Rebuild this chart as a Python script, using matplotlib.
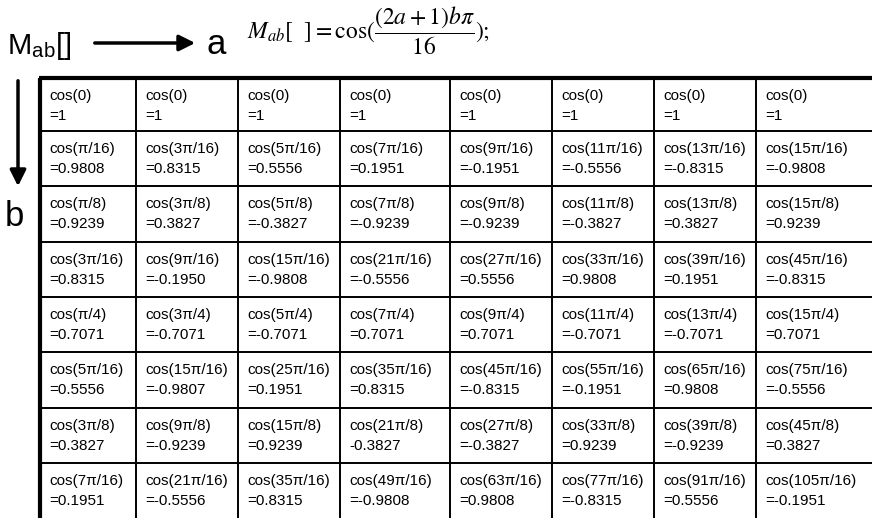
import numpy as np
import matplotlib.pyplot as plt

# cell contents, row b = 0..7, column a = 0..7
angles = [
    ["cos(0)", "cos(0)", "cos(0)", "cos(0)", "cos(0)", "cos(0)", "cos(0)", "cos(0)"],
    ["cos(π/16)", "cos(3π/16)", "cos(5π/16)", "cos(7π/16)", "cos(9π/16)", "cos(11π/16)", "cos(13π/16)", "cos(15π/16)"],
    ["cos(π/8)", "cos(3π/8)", "cos(5π/8)", "cos(7π/8)", "cos(9π/8)", "cos(11π/8)", "cos(13π/8)", "cos(15π/8)"],
    ["cos(3π/16)", "cos(9π/16)", "cos(15π/16)", "cos(21π/16)", "cos(27π/16)", "cos(33π/16)", "cos(39π/16)", "cos(45π/16)"],
    ["cos(π/4)", "cos(3π/4)", "cos(5π/4)", "cos(7π/4)", "cos(9π/4)", "cos(11π/4)", "cos(13π/4)", "cos(15π/4)"],
    ["cos(5π/16)", "cos(15π/16)", "cos(25π/16)", "cos(35π/16)", "cos(45π/16)", "cos(55π/16)", "cos(65π/16)", "cos(75π/16)"],
    ["cos(3π/8)", "cos(9π/8)", "cos(15π/8)", "cos(21π/8)", "cos(27π/8)", "cos(33π/8)", "cos(39π/8)", "cos(45π/8)"],
    ["cos(7π/16)", "cos(21π/16)", "cos(35π/16)", "cos(49π/16)", "cos(63π/16)", "cos(77π/16)", "cos(91π/16)", "cos(105π/16)"],
]
values = [
    ["=1", "=1", "=1", "=1", "=1", "=1", "=1", "=1"],
    ["=0.9808", "=0.8315", "=0.5556", "=0.1951", "=-0.1951", "=-0.5556", "=-0.8315", "=-0.9808"],
    ["=0.9239", "=0.3827", "=-0.3827", "=-0.9239", "=-0.9239", "=-0.3827", "=0.3827", "=0.9239"],
    ["=0.8315", "=-0.1950", "=-0.9808", "=-0.5556", "=0.5556", "=0.9808", "=0.1951", "=-0.8315"],
    ["=0.7071", "=-0.7071", "=-0.7071", "=0.7071", "=0.7071", "=-0.7071", "=-0.7071", "=0.7071"],
    ["=0.5556", "=-0.9807", "=0.1951", "=0.8315", "=-0.8315", "=-0.1951", "=0.9808", "=-0.5556"],
    ["=0.3827", "=-0.9239", "=0.9239", "-0.3827", "=-0.3827", "=0.9239", "=-0.9239", "=0.3827"],
    ["=0.1951", "=-0.5556", "=0.8315", "=-0.9808", "=0.9808", "=-0.8315", "=0.5556", "=-0.1951"],
]

plt.rcParams['font.family'] = ['Liberation Sans', 'DejaVu Sans']
plt.rcParams['mathtext.fontset'] = 'stix'

# layout in pixels
col_widths = [96, 102, 102, 110, 102, 102, 102, 116]
row_heights = [53, 55, 56, 55, 55, 56, 55, 55]
x0, y0 = 40, 78

fig = plt.figure(figsize=(8.72, 5.18), dpi=100)
ax = fig.add_axes([0, 0, 1, 1])
ax.set_xlim(0, 872)
ax.set_ylim(518, 0)
ax.axis('off')

xs = x0 + np.concatenate([[0], np.cumsum(col_widths)])
ys = y0 + np.concatenate([[0], np.cumsum(row_heights)])

for x in xs[1:-1]:
    ax.plot([x, x], [ys[0], ys[-1]], color='black', lw=1.4)
for y in ys[1:-1]:
    ax.plot([xs[0], xs[-1]], [y, y], color='black', lw=1.4)
ax.plot([xs[0] - 1.5, xs[-1]], [ys[0], ys[0]], color='black', lw=3, solid_capstyle='butt')
ax.plot([xs[0], xs[0]], [ys[0], ys[-1]], color='black', lw=3, solid_capstyle='butt')

for i in range(8):
    for j in range(8):
        ax.text(xs[j] + 9, ys[i] + 18, angles[i][j], fontsize=11, va='center')
        ax.text(xs[j] + 9, ys[i] + 38, values[i][j], fontsize=11, va='center')

# header
ax.text(7, 54, r'M$_\mathregular{ab}$[]', fontsize=21, va='baseline')
ax.annotate('', xy=(198, 43), xytext=(92, 43),
            arrowprops=dict(arrowstyle='-|>', lw=2.5, color='black', mutation_scale=24))
ax.text(206, 54, 'a', fontsize=25, va='baseline')
ax.text(247, 31, r'$M_{ab}[\ \ ]=\cos(\dfrac{(2a+1)b\pi}{16});$', fontsize=17, va='center')

ax.annotate('', xy=(18, 189), xytext=(18, 78),
            arrowprops=dict(arrowstyle='-|>', lw=2.5, color='black', mutation_scale=24))
ax.text(5, 226, 'b', fontsize=25, va='baseline')

fig.savefig('out.png', dpi=100)
